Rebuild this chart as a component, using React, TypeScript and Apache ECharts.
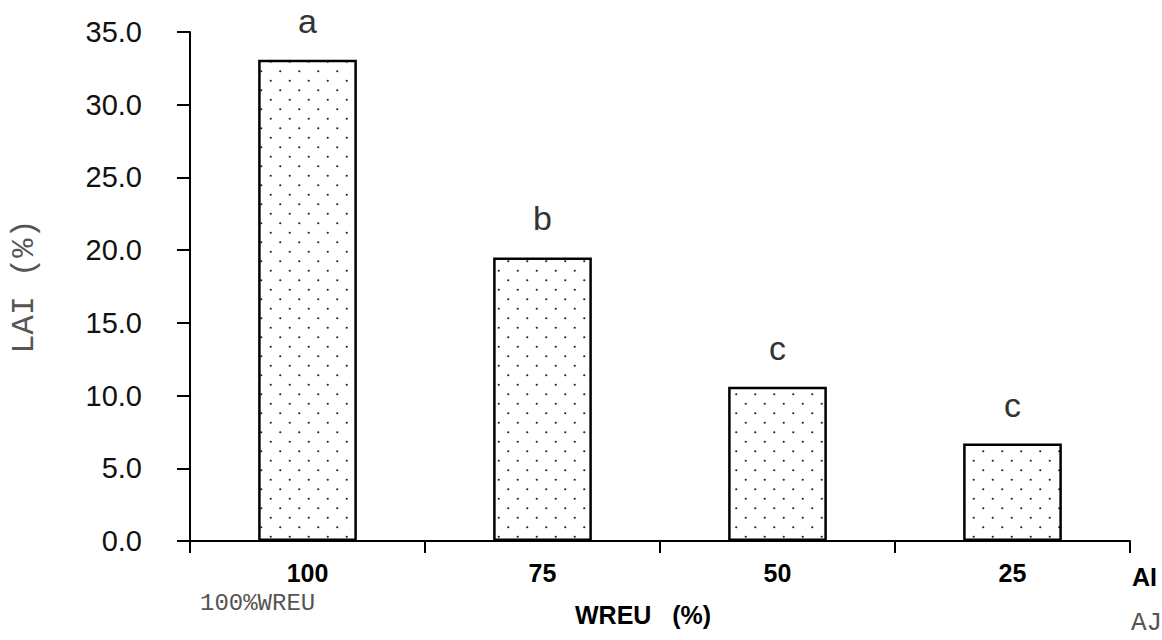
import React, { useEffect, useRef } from "react";
import * as echarts from "echarts";

const categories = ["100", "75", "50", "25"];
const values = [33.1, 19.5, 10.6, 6.7];
const letters = ["a", "b", "c", "c"];
const yTicks = [0, 5, 10, 15, 20, 25, 30, 35];

function makePattern(): HTMLCanvasElement {
  const c = document.createElement("canvas");
  c.width = 19;
  c.height = 19;
  const ctx = c.getContext("2d")!;
  ctx.fillStyle = "#ffffff";
  ctx.fillRect(0, 0, 19, 19);
  ctx.fillStyle = "#222222";
  ctx.beginPath();
  ctx.arc(4.75, 4.75, 1.1, 0, Math.PI * 2);
  ctx.arc(14.25, 14.25, 1.1, 0, Math.PI * 2);
  ctx.fill();
  return c;
}

export default function App() {
  const ref = useRef<HTMLDivElement>(null);
  useEffect(() => {
    if (!ref.current) return;
    const chart = echarts.init(ref.current, null, { renderer: "svg" });
    const pattern = makePattern();
    chart.setOption({
      animation: false,
      backgroundColor: "#ffffff",
      grid: { left: 183, right: 32, top: 32, bottom: 99 },
      xAxis: {
        type: "category",
        data: categories,
        axisLine: { lineStyle: { color: "#000", width: 2 } },
        axisTick: { show: true, length: 12, inside: false, lineStyle: { color: "#000", width: 2 } },
        axisLabel: {
          margin: 19,
          fontFamily: "Liberation Sans, Arial",
          fontWeight: "bold",
          fontSize: 25,
          color: "#000",
        },
      },
      yAxis: {
        type: "value",
        min: 0,
        max: 35,
        interval: 5,
        name: "LAI (%)",
        nameLocation: "middle",
        nameGap: 150,
        nameRotate: 90,
        nameTextStyle: { fontFamily: "Liberation Mono, monospace", fontSize: 32, color: "#555" },
        axisLine: { show: true, lineStyle: { color: "#000", width: 2 } },
        axisTick: { show: true, length: 13, lineStyle: { color: "#000", width: 2 } },
        splitLine: { show: false },
        axisLabel: {
          margin: 48,
          fontFamily: "Liberation Sans, Arial",
          fontSize: 29,
          color: "#111",
          formatter: (v: number) => (yTicks.includes(v) ? v.toFixed(1) : ""),
        },
      },
      series: [
        {
          type: "bar",
          data: values,
          barWidth: "42%",
          itemStyle: {
            color: { image: pattern, repeat: "repeat" },
            borderColor: "#000",
            borderWidth: 2.5,
          },
          label: {
            show: true,
            position: "top",
            distance: 22,
            fontFamily: "Liberation Sans, Arial",
            fontSize: 34,
            color: "#333",
            formatter: (p: any) => letters[p.dataIndex],
          },
        },
      ],
      graphic: [
        {
          type: "text",
          left: 1132,
          top: 564,
          style: { text: "AI", font: "bold 25px Liberation Sans, Arial", fill: "#000" },
        },
        {
          type: "text",
          left: 575,
          top: 602,
          style: { text: "WREU   (%)", font: "bold 25px Liberation Sans, Arial", fill: "#000" },
        },
        {
          type: "text",
          left: 200,
          top: 591,
          style: { text: "100%WREU", font: "24px Liberation Mono, monospace", fill: "#555" },
        },
        {
          type: "text",
          left: 1131,
          top: 610,
          style: { text: "AJ", font: "26px Liberation Mono, monospace", fill: "#555" },
        },
      ],
    });
    return () => chart.dispose();
  }, []);
  return <div ref={ref} style={{ width: 1162, height: 640, position: "absolute", left: 0, top: 0 }} />;
}
